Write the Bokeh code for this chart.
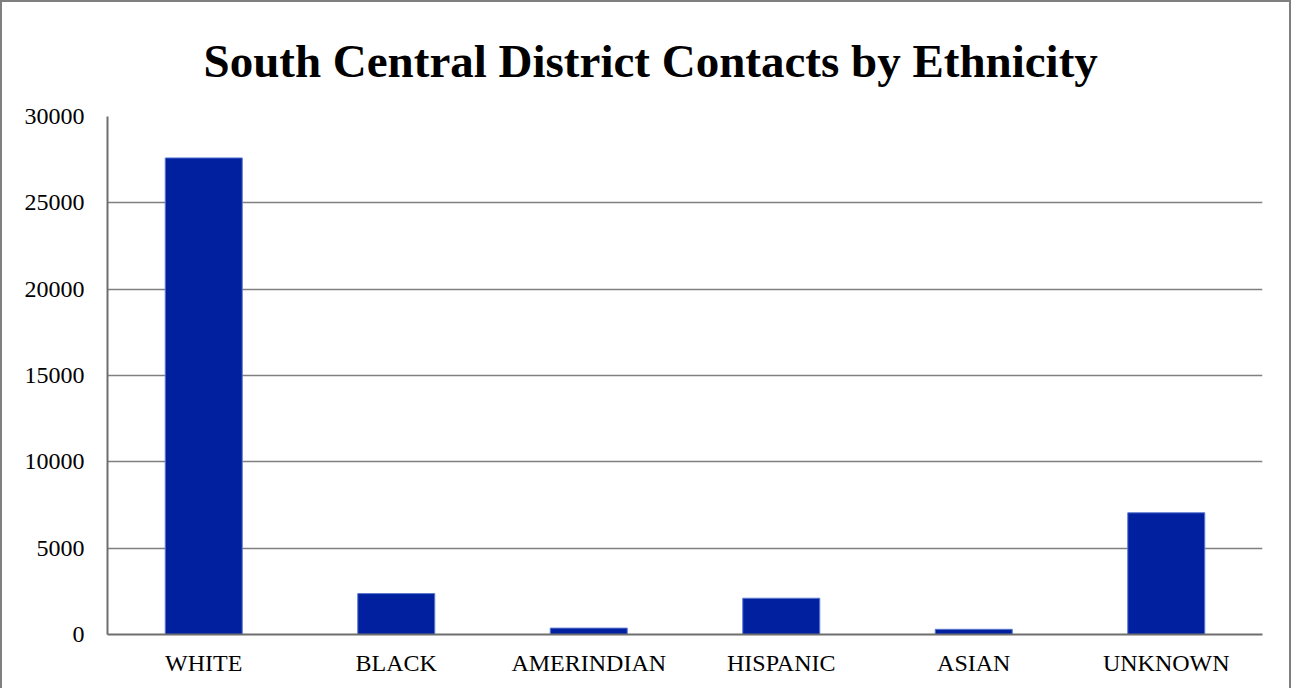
from bokeh.plotting import figure
from bokeh.models import ColumnDataSource, FactorRange, Range1d, SingleIntervalTicker
from bokeh.embed import file_html
from bokeh.resources import INLINE

title_text = "South Central District Contacts by Ethnicity"
categories = ["WHITE", "BLACK", "AMERINDIAN", "HISPANIC", "ASIAN", "UNKNOWN"]
contacts = [27600, 2370, 370, 2100, 300, 7050]

src = ColumnDataSource(data=dict(cat=categories, val=contacts))

p = figure(
    x_range=FactorRange(factors=categories, range_padding=0),
    y_range=Range1d(0, 30000),
    width=1291, height=688,
    output_backend="svg", toolbar_location=None,
    min_border_left=105, min_border_right=31, min_border_top=114, min_border_bottom=56,
    title=title_text,
)
p.styles = {"border-top": "2px solid #7f7f7f", "border-left": "2px solid #7f7f7f",
            "border-right": "2px solid #7f7f7f", "box-sizing": "border-box"}

p.vbar(x="cat", top="val", width=0.4, source=src,
       fill_color="#0020a0", line_color="#5a78d0", line_width=1)

p.title.text_font = "Liberation Serif"
p.title.text_font_size = "47px"
p.title.text_font_style = "bold"
p.title.align = "left"
p.title.text_color = "#000000"
p.title.offset = 96
p.title.standoff = 59

p.outline_line_color = None
p.background_fill_color = "white"
p.border_fill_color = "white"

p.xgrid.grid_line_color = None
p.ygrid.grid_line_color = "#808080"
p.ygrid.grid_line_width = 1.5
p.yaxis.ticker = SingleIntervalTicker(interval=5000)

for ax in (p.xaxis[0], p.yaxis[0]):
    ax.axis_line_color = "#6e6e6e"
    ax.axis_line_width = 2
    ax.major_tick_line_color = None
    ax.minor_tick_line_color = None
    ax.major_label_text_font = "Liberation Serif"
    ax.major_label_text_font_size = "24px"
    ax.major_label_text_color = "#000000"

p.yaxis.major_label_standoff = 17
p.xaxis.major_label_standoff = 9

open("out.html", "w").write(file_html(p, INLINE))
